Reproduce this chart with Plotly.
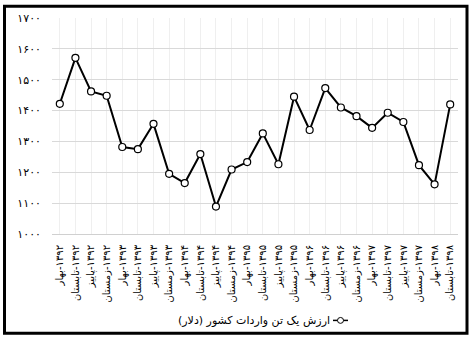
import plotly.graph_objects as go

years = ["۱۳۹۲"] * 4 + ["۱۳۹۳"] * 4 + ["۱۳۹۴"] * 4 + ["۱۳۹۵"] * 4 + ["۱۳۹۶"] * 4 + ["۱۳۹۷"] * 4 + ["۱۳۹۸"] * 2
seasons = ["بهار", "تابستان", "پاییز", "زمستان"] * 6 + ["بهار", "تابستان"]
values = [1422, 1571, 1462, 1448, 1282, 1275, 1357, 1195, 1165, 1259, 1089, 1209, 1233,
          1326, 1226, 1445, 1337, 1473, 1410, 1382, 1344, 1393, 1363, 1223, 1161, 1420]
series_name = "ارزش یک تن واردات کشور (دلار)"
y_ticks = [1000, 1100, 1200, 1300, 1400, 1500, 1600, 1700]
y_tick_text = ["۱۰۰۰", "۱۱۰۰", "۱۲۰۰", "۱۳۰۰", "۱۴۰۰", "۱۵۰۰", "۱۶۰۰", "۱۷۰۰"]

LRM = "\u200e"
categories = [f"{LRM}{s}{LRM}-{LRM}{y}{LRM}" for y, s in zip(years, seasons)]

W, H = 472, 343
L, R, T, B = 52, 14, 14, 109
pw, ph = W - L - R, H - T - B


def px(x):
    return (x - L) / pw


def py(y):
    return (H - B - y) / ph


fig = go.Figure()
fig.add_trace(go.Scatter(
    x=categories, y=values, mode="lines+markers", name=series_name,
    line=dict(color="black", width=2),
    marker=dict(symbol="circle", size=7, color="white", line=dict(color="black", width=1.2)),
    showlegend=False,
))

ly = py(322)
fig.update_layout(
    width=W, height=H,
    margin=dict(l=L, r=R, t=T, b=B),
    paper_bgcolor="white", plot_bgcolor="white",
    font=dict(family="DejaVu Sans", color="black"),
    xaxis=dict(
        type="category", tickangle=-90, tickfont=dict(size=10),
        showgrid=True, gridcolor="#efefef", gridwidth=1,
        showline=True, linecolor="#d0d0d0", linewidth=1,
        ticks="", ticklabelstandoff=6, range=[-0.5, len(categories) - 0.5],
    ),
    yaxis=dict(
        range=[1000, 1700], tickvals=y_ticks, ticktext=y_tick_text,
        tickfont=dict(size=11), showgrid=True, gridcolor="#d9d9d9", gridwidth=1,
        zeroline=False, showline=False, ticks="", ticklabelstandoff=10,
    ),
    annotations=[
        dict(text=series_name, xref="paper", yref="paper", x=px(332), y=ly,
             xanchor="right", yanchor="middle", showarrow=False,
             font=dict(size=11, color="black")),
    ],
    shapes=[
        dict(type="line", xref="paper", yref="paper",
             x0=px(333), x1=px(348), y0=ly, y1=ly,
             line=dict(color="black", width=1.5)),
        dict(type="circle", xref="paper", yref="paper",
             x0=px(337.5), x1=px(343.5), y0=ly - 3 / ph, y1=ly + 3 / ph,
             fillcolor="white", line=dict(color="black", width=1)),
        dict(type="rect", xref="paper", yref="paper",
             x0=px(4.5), x1=px(467), y0=py(2), y1=py(335),
             line=dict(color="black", width=3), layer="above"),
    ],
)

fig.write_html("out.html")
